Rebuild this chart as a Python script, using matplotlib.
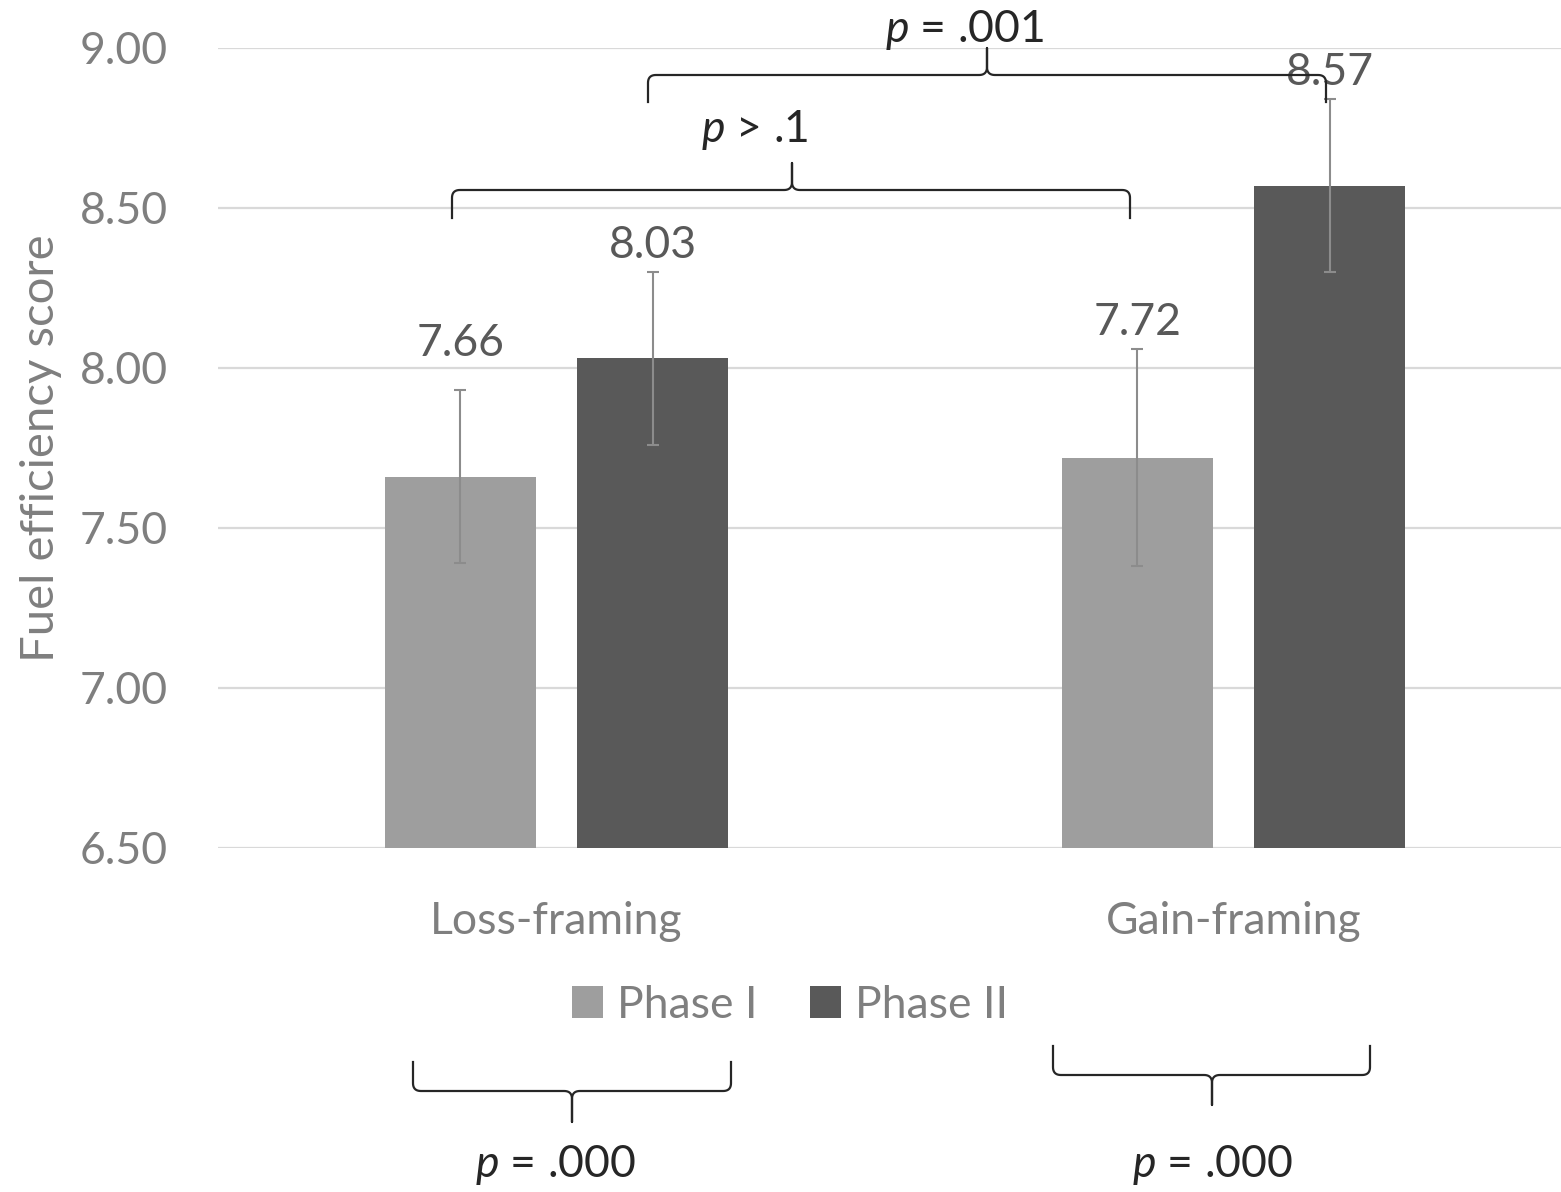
import numpy as np
import matplotlib
matplotlib.use("Agg")
from matplotlib import pyplot as plt
from matplotlib.lines import Line2D

plt.rcParams['font.family'] = ['Lato', 'DejaVu Sans']
plt.rcParams['mathtext.fontset'] = 'custom'
plt.rcParams['mathtext.it'] = 'Lato:italic'
plt.rcParams['mathtext.rm'] = 'Lato'

# data
groups = ["Loss-framing", "Gain-framing"]
phases = ["Phase I", "Phase II"]
phase1 = [7.66, 7.72]
phase2 = [8.03, 8.57]
phase1_err = [0.27, 0.34]
phase2_err = [0.27, 0.27]
yticks = [6.5, 7.0, 7.5, 8.0, 8.5, 9.0]

W, H = 1561, 1192
fig = plt.figure(figsize=(W / 100, H / 100), dpi=100)
ax = fig.add_axes([218 / W, (H - 848) / H, (1572 - 218) / W, 800 / H])

x = np.arange(len(groups))
width = 0.223
off = 0.142
colors = ["#9e9e9e", "#595959"]
err_color = "#8c8c8c"

series = [(phase1, phase1_err), (phase2, phase2_err)]
label_pad = [[25, 10], [10, 10]]  # points above error-bar top
for i, (vals, errs) in enumerate(series):
    xs = x + (-off if i == 0 else off)
    ax.bar(xs, np.array(vals) - 6.5, width, bottom=6.5, color=colors[i],
           label=phases[i], zorder=2)
    ax.errorbar(xs, vals, yerr=errs, fmt='none', ecolor=err_color,
                elinewidth=1.5, capsize=4, capthick=1.5, zorder=3)
    for j, (xv, v, e) in enumerate(zip(xs, vals, errs)):
        ax.annotate(f"{v:.2f}", (xv, v + e), xytext=(0, label_pad[i][j]),
                    textcoords="offset points", ha="center", va="baseline",
                    fontsize=32, color="#595959", zorder=4)

ax.set_ylim(6.5, 9.0)
ax.set_xlim(-0.5, 1.5)
ax.set_yticks(yticks)
ax.set_yticklabels([f"{t:.2f}" for t in yticks], fontsize=32, color="#7f7f7f")
ax.set_xticks(x)
ax.set_xticklabels(groups, fontsize=32, color="#7f7f7f")
ax.tick_params(length=0, pad=36, axis='y')
ax.tick_params(length=0, pad=38, axis='x')
ax.grid(axis='y', color="#d9d9d9", lw=1.6, zorder=0)
for s in ax.spines.values():
    s.set_visible(False)
ax.set_ylabel("Fuel efficiency score", fontsize=34, color="#7f7f7f")
ax.yaxis.set_label_coords(-0.115, 0.5)

leg = fig.legend(loc="center", bbox_to_anchor=(790 / W, 1 - 1005 / H), ncol=2,
                 frameon=False, fontsize=32, handlelength=0.7, handleheight=0.7,
                 handletextpad=0.3, columnspacing=1.2, labelcolor="#7f7f7f")


def brace(x0, x1, xm, yl, ye, yt, r=8):
    """curly brace in figure pixels (y measured from top)"""
    se = np.sign(ye - yl)
    st = np.sign(yt - yl)
    t = np.linspace(0, 1, 12)[:, None]

    def corner(p0, c, p2):
        p0, c, p2 = map(np.array, (p0, c, p2))
        return (1 - t) ** 2 * p0 + 2 * (1 - t) * t * c + t ** 2 * p2

    pts = [np.array([[x0, ye]]),
           corner((x0, yl + se * r), (x0, yl), (x0 + r, yl)),
           corner((xm - r, yl), (xm, yl), (xm, yl + st * r)),
           np.array([[xm, yt]]),
           corner((xm, yl + st * r), (xm, yl), (xm + r, yl)),
           corner((x1 - r, yl), (x1, yl), (x1, yl + se * r)),
           np.array([[x1, ye]])]
    p = np.vstack(pts)
    fig.add_artist(Line2D(p[:, 0] / W, 1 - p[:, 1] / H, color="#262626",
                          lw=1.6, transform=fig.transFigure))


brace(452, 1130, 792, 190, 218, 163)
brace(648, 1326, 987, 75, 102, 48)
brace(413, 731, 572, 1091, 1062, 1122)
brace(1053, 1370, 1212, 1075, 1046, 1105)

ptexts = [("$p$ > .1", 755, 130), ("$p$ = .001", 964, 30),
          ("$p$ = .000", 555, 1165), ("$p$ = .000", 1212, 1165)]
for s, px, py in ptexts:
    fig.text(px / W, 1 - py / H, s, ha="center", va="center", fontsize=32,
             color="#262626")

fig.savefig("out.png", dpi=100)
